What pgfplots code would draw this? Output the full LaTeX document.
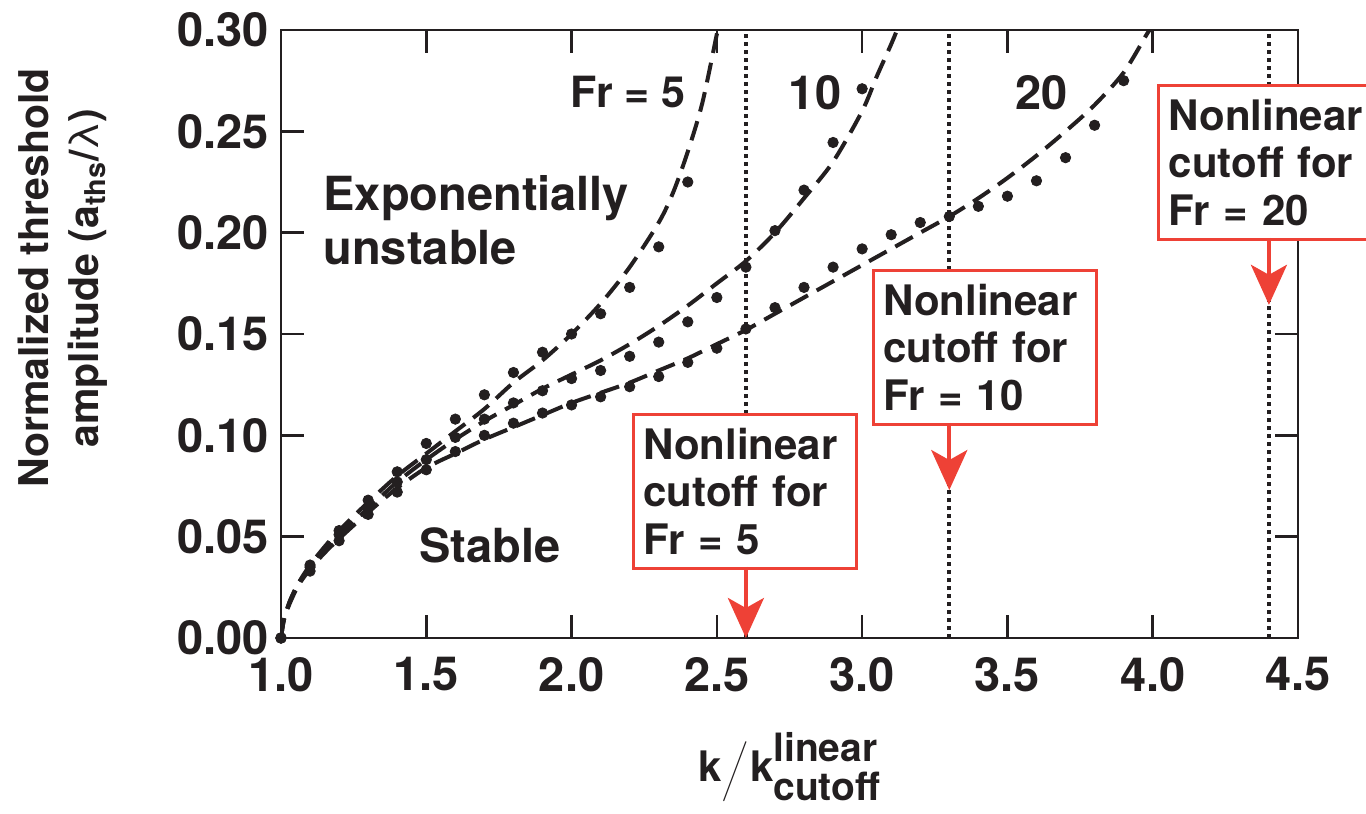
\documentclass[border=0pt]{standalone}
\usepackage{fontspec}
\setmainfont{TeX Gyre Heros}
\usepackage{pgfplots}
\pgfplotsset{compat=1.18}
\usetikzlibrary{arrows.meta}
\definecolor{txt}{HTML}{231F20}
\definecolor{cred}{HTML}{EE4136}
\begin{document}
\begin{tikzpicture}
\useasboundingbox (-140.5pt,-88pt) rectangle (542.5pt,319pt);
\begin{axis}[
  at={(0pt,0pt)}, anchor=south west,
  scale only axis, width=508.5pt, height=304pt,
  xmin=1, xmax=4.5, ymin=0, ymax=0.30,
  xtick={1,1.5,2,2.5,3,3.5,4,4.5},
  xticklabels={1.0,1.5,2.0,2.5,3.0,3.5,4.0,4.5},
  ytick={0,0.05,0.10,0.15,0.20,0.25,0.30},
  yticklabels={0.00,0.05,0.10,0.15,0.20,0.25,0.30},
  tick align=inside, major tick length=11.5pt,
  tick style={txt, line width=1.3pt},
  axis line style={txt, line width=1.3pt},
  tick label style={font=\bfseries\fontsize{23.5}{23.5}\selectfont, text=txt},
  xticklabel style={yshift=-6.2pt},
  yticklabel style={xshift=-2.6pt},
  xlabel={k$\left/\vrule height19pt depth13pt width0pt\right.$k\raisebox{10pt}{\rlap{\fontsize{19.5}{19.5}\selectfont linear}}\raisebox{-9.5pt}{\fontsize{19.5}{19.5}\selectfont cutoff}},
  xlabel style={at={(axis description cs:0.5,-0.2368)}, anchor=base, font=\bfseries\fontsize{21}{24}\selectfont, text=txt},
  ylabel={Normalized threshold\\amplitude (a\textsubscript{ths}/{\mdseries λ})},
  ylabel style={at={(axis description cs:-0.2144,0.592)}, anchor=center, align=center, font=\bfseries\fontsize{20.5}{25}\selectfont, text=txt},
  clip mode=individual,
]
% nonlinear cutoff lines
\addplot[txt, line width=2pt, dash pattern=on 2pt off 2pt] coordinates {(2.6,0) (2.6,0.30)};
\addplot[txt, line width=2pt, dash pattern=on 2pt off 2pt] coordinates {(3.3,0) (3.3,0.30)};
\addplot[txt, line width=2pt, dash pattern=on 2pt off 2pt] coordinates {(4.4,0) (4.4,0.30)};
% Fr = 5 curve
\addplot[txt, line width=2pt, dash pattern=on 10pt off 5pt, smooth, no marks] coordinates {
(1.0,0) (1.01,0.009) (1.03,0.018) (1.06,0.027) (1.1,0.036) (1.15,0.045) (1.2,0.053)
(1.3,0.067) (1.4,0.080) (1.5,0.091) (1.6,0.102) (1.7,0.113) (1.8,0.126) (1.9,0.137)
(2.0,0.150) (2.1,0.165) (2.2,0.183) (2.3,0.205) (2.35,0.220) (2.4,0.240) (2.45,0.264) (2.5,0.298) (2.503,0.30)};
% Fr = 10 curve
\addplot[txt, line width=2pt, dash pattern=on 10pt off 5pt, smooth, no marks] coordinates {
(1.0,0) (1.01,0.009) (1.03,0.018) (1.06,0.027) (1.1,0.035) (1.15,0.044) (1.2,0.051)
(1.3,0.064) (1.4,0.077) (1.5,0.088) (1.6,0.098) (1.7,0.107) (1.8,0.115) (1.9,0.123)
(2.0,0.130) (2.1,0.137) (2.2,0.145) (2.3,0.154) (2.4,0.164) (2.5,0.175) (2.6,0.186)
(2.7,0.200) (2.8,0.217) (2.9,0.235) (3.0,0.260) (3.05,0.277) (3.1,0.293) (3.12,0.30)};
% Fr = 20 curve
\addplot[txt, line width=2pt, dash pattern=on 10pt off 5pt, smooth, no marks] coordinates {
(1.0,0) (1.01,0.009) (1.03,0.017) (1.06,0.026) (1.1,0.034) (1.15,0.042) (1.2,0.049)
(1.3,0.062) (1.4,0.074) (1.5,0.084) (1.6,0.091) (1.7,0.098) (1.8,0.104) (1.9,0.110)
(2.0,0.116) (2.1,0.121) (2.2,0.126) (2.3,0.132) (2.4,0.138) (2.5,0.145) (2.6,0.152)
(2.7,0.160) (2.8,0.168) (2.9,0.176) (3.0,0.184) (3.1,0.192) (3.2,0.200) (3.3,0.208)
(3.4,0.217) (3.5,0.227) (3.6,0.238) (3.7,0.250) (3.8,0.263) (3.9,0.279) (3.98,0.298) (3.99,0.30)};
% simulation points
\addplot[only marks, mark=*, mark size=2.6pt, txt] coordinates {
(1.0,0) (1.1,0.036) (1.2,0.053) (1.3,0.068) (1.4,0.082) (1.5,0.096) (1.6,0.108) (1.7,0.120)
(1.8,0.131) (1.9,0.141) (2.0,0.150) (2.1,0.160) (2.2,0.173) (2.3,0.193) (2.4,0.225)};
\addplot[only marks, mark=*, mark size=2.6pt, txt] coordinates {
(1.0,0) (1.1,0.035) (1.2,0.051) (1.3,0.064) (1.4,0.077) (1.5,0.088) (1.6,0.099) (1.7,0.108)
(1.8,0.116) (1.9,0.122) (2.0,0.128) (2.1,0.132) (2.2,0.139) (2.3,0.146) (2.4,0.156)
(2.5,0.168) (2.6,0.183) (2.7,0.201) (2.8,0.221) (2.9,0.2445) (3.0,0.271)};
\addplot[only marks, mark=*, mark size=2.6pt, txt] coordinates {
(1.0,0) (1.1,0.033) (1.2,0.048) (1.3,0.061) (1.4,0.072) (1.5,0.083) (1.6,0.092) (1.7,0.100)
(1.8,0.106) (1.9,0.111) (2.0,0.115) (2.1,0.119) (2.2,0.124) (2.3,0.129) (2.4,0.136)
(2.5,0.143) (2.6,0.1525) (2.7,0.163) (2.8,0.173) (2.9,0.183) (3.0,0.192) (3.1,0.199)
(3.2,0.205) (3.3,0.208) (3.4,0.213) (3.5,0.218) (3.6,0.2256) (3.7,0.237) (3.8,0.253) (3.9,0.275)};
% labels
\node[font=\bfseries\fontsize{21.5}{21.5}\selectfont, text=txt] at (axis cs:2.195,0.2695) {Fr = 5};
\node[font=\bfseries\fontsize{23.5}{23.5}\selectfont, text=txt] at (axis cs:2.838,0.269) {10};
\node[font=\bfseries\fontsize{23.5}{23.5}\selectfont, text=txt] at (axis cs:3.618,0.269) {20};
\node[anchor=west, align=left, inner sep=0pt, font=\bfseries\fontsize{23.5}{27}\selectfont, text=txt] at (axis cs:1.145,0.2063) {Exponentially\\unstable};
\node[font=\bfseries\fontsize{23.5}{23.5}\selectfont, text=txt] at (axis cs:1.719,0.0459) {Stable};
% boxes
\tikzset{cbox/.style={draw=cred, fill=white, line width=1.5pt, anchor=north west, align=left,
  text width=101.5pt, minimum height=77pt, inner xsep=5pt, inner ysep=4pt,
  font=\bfseries\fontsize{21}{23.75}\selectfont, text=txt}}
\node[cbox] at (axis cs:2.208,0.1111) {Nonlinear\\cutoff for\\Fr = 5};
\node[cbox] at (axis cs:3.034,0.1821) {Nonlinear\\cutoff for\\Fr = 10};
\node[cbox] at (axis cs:4.0155,0.2734) {Nonlinear\\cutoff for\\Fr = 20};
\draw[cred, line width=2pt, -{Stealth[length=20pt,width=18pt,inset=5pt]}] (axis cs:2.6,0.0351) -- (axis cs:2.6,0);
\draw[cred, line width=2pt, -{Stealth[length=20pt,width=18pt,inset=5pt]}] (axis cs:3.3,0.1061) -- (axis cs:3.3,0.073);
\draw[cred, line width=2pt, -{Stealth[length=20pt,width=18pt,inset=5pt]}] (axis cs:4.4,0.1974) -- (axis cs:4.4,0.1644);
\end{axis}
\end{tikzpicture}
\end{document}
